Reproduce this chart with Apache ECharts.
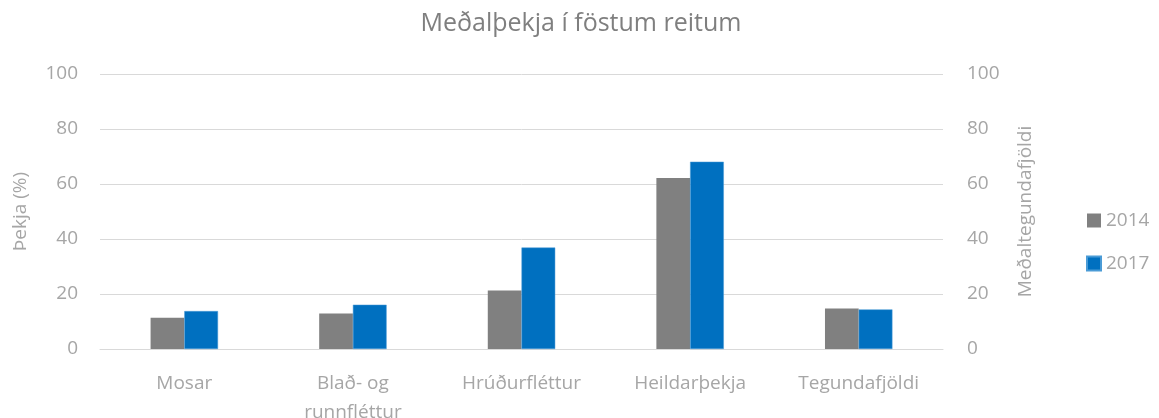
<!DOCTYPE html>
<html>
<head>
<meta charset="utf-8">
<script src="https://cdn.jsdelivr.net/npm/echarts@6/dist/echarts.min.js"></script>
<style>
  html, body { margin: 0; padding: 0; background: #fff; }
  #chart { width: 1159px; height: 418px; }
</style>
</head>
<body>
<div id="chart"></div>
<script>
// flokkar og gildi
var categories = ["Mosar", "Blað- og\nrunnfléttur", "Hrúðurfléttur", "Heildarþekja", "Tegundafjöldi"];
var values2014 = [11.4, 12.9, 21.3, 62.2, 14.7];
var values2017 = [13.8, 16.1, 36.9, 68.1, 14.4];
var axisTicks = [0, 20, 40, 60, 80, 100];

var chart = echarts.init(document.getElementById("chart"));
var font = "'Open Sans', sans-serif";
var tickColor = "#A6A6A6";

var option = {
  animation: false,
  textStyle: { fontFamily: font },
  title: {
    text: "Meðalþekja í föstum reitum",
    left: 576,
    textAlign: "center",
    top: 6,
    textStyle: { fontFamily: font, fontSize: 25, fontWeight: "normal", color: "#7F7F7F" }
  },
  legend: {
    orient: "vertical",
    left: 1081,
    top: 206,
    itemWidth: 14,
    itemHeight: 14,
    itemGap: 24,
    icon: "rect",
    textStyle: { fontFamily: font, fontSize: 19, color: tickColor },
    data: ["2014", "2017"]
  },
  grid: { left: 100, right: 216, top: 74, bottom: 69, outerBoundsMode: "none" },
  xAxis: {
    type: "category",
    data: categories,
    axisTick: { show: false },
    axisLine: { lineStyle: { color: "#D9D9D9", width: 1 } },
    axisLabel: { color: tickColor, fontSize: 19, margin: 20, lineHeight: 29, fontFamily: font }
  },
  yAxis: [
    {
      type: "value",
      min: 0, max: 100, interval: 20,
      name: "Þekja (%)",
      nameLocation: "middle",
      nameGap: 70,
      nameTextStyle: { color: tickColor, fontSize: 19, fontFamily: font },
      axisLabel: {
        color: tickColor, fontSize: 19, margin: 22, fontFamily: font,
        formatter: function (v) { return axisTicks.indexOf(v) >= 0 ? String(v) : ""; }
      },
      splitLine: { lineStyle: { color: "#D9D9D9", width: 1 } }
    },
    {
      type: "value",
      min: 0, max: 100, interval: 20,
      name: "Meðaltegundafjöldi",
      nameLocation: "middle",
      nameGap: 73,
      nameTextStyle: { color: tickColor, fontSize: 19, fontFamily: font },
      axisLabel: {
        color: tickColor, fontSize: 19, margin: 24, align: "left", fontFamily: font,
        formatter: function (v) { return axisTicks.indexOf(v) >= 0 ? String(v) : ""; }
      },
      splitLine: { show: false }
    }
  ],
  series: [
    {
      name: "2014",
      type: "bar",
      data: values2014,
      barGap: "0%",
      barCategoryGap: "60%",
      itemStyle: { color: "#808080" }
    },
    {
      name: "2017",
      type: "bar",
      data: values2017,
      itemStyle: { color: "#0070C0", borderColor: "#4A9BD6", borderWidth: 0.5 }
    }
  ]
};

chart.setOption(option);
</script>
</body>
</html>
